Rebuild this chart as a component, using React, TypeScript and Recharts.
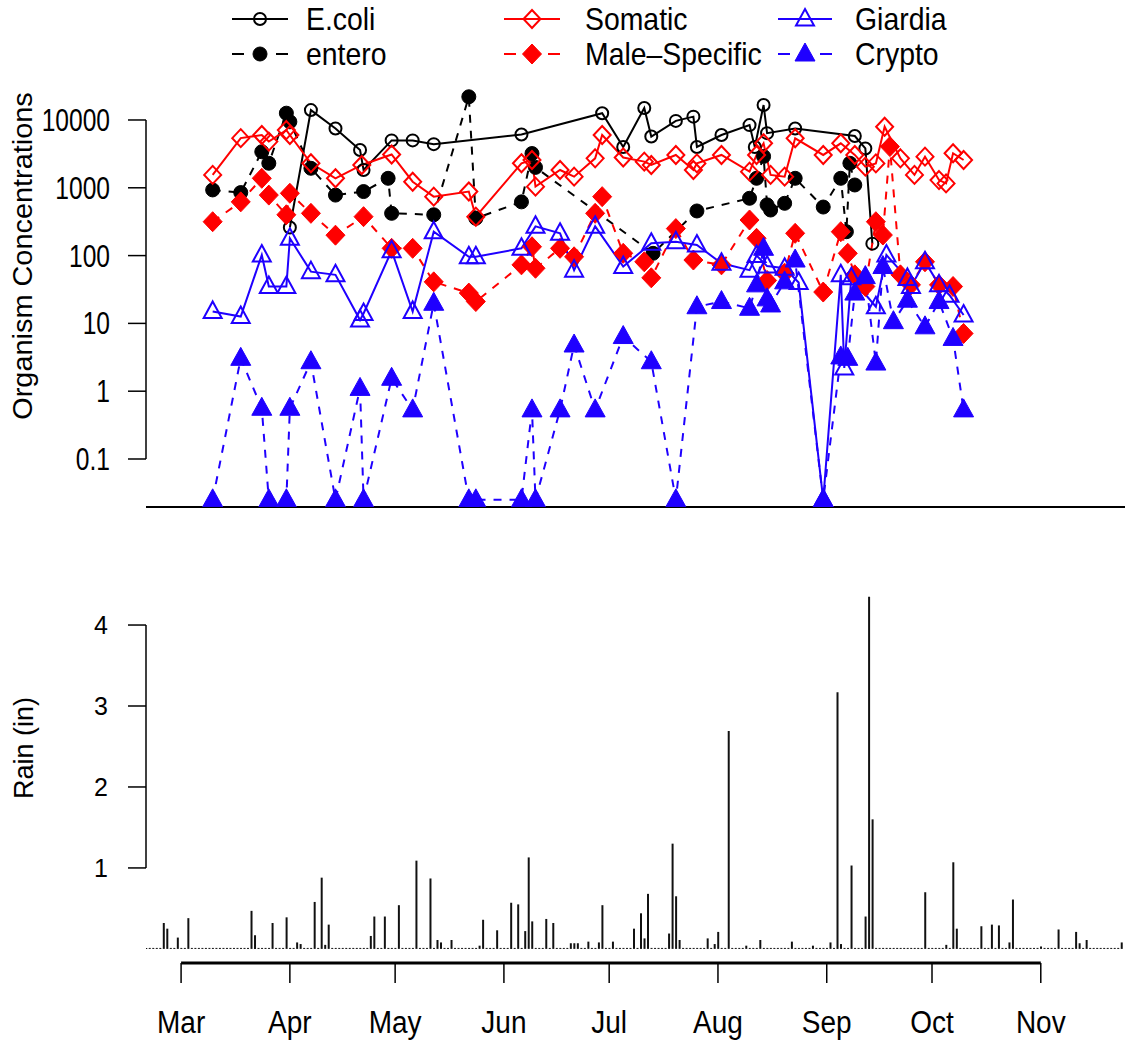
import React from 'react';
import { LineChart, Line, XAxis, YAxis, ReferenceLine, ComposedChart, Bar } from 'recharts';

// ---------- data (days counted from March 1) ----------
const monthTickDays = [0, 31, 61, 92, 122, 153, 184, 214, 245];
const monthTickLabels = ['Mar', 'Apr', 'May', 'Jun', 'Jul', 'Aug', 'Sep', 'Oct', 'Nov'];
const concTicks = [0.1, 1, 10, 100, 1000, 10000];
const rainTicks = [1, 2, 3, 4];
const xStartDay = -10;
const xEndDay = 269;

const ecoliDays = [31, 37, 44, 51, 52, 60, 66, 72, 97, 120, 126, 132, 134, 141, 146, 147, 154, 162, 163.5, 166, 167, 175, 192, 195, 197];
const ecoliValues = [260, 14000, 7500, 3600, 1830, 5000, 5000, 4400, 6100, 12600, 4000, 15000, 5700, 9700, 11200, 4000, 6000, 8400, 4000, 16600, 6400, 7500, 5800, 3800, 150];

const enteroDays = [9, 17, 23, 25, 30, 31, 37, 44, 52, 59, 60, 72, 82, 84, 97, 100, 101, 134.5, 147, 162, 164, 166, 167, 168, 172, 175, 183, 188, 189.6, 190.6, 192];
const enteroValues = [930, 850, 3400, 2300, 12600, 9400, 1940, 780, 880, 1380, 420, 400, 22000, 355, 620, 3200, 2000, 108, 455, 700, 1380, 2900, 560, 470, 590, 1380, 520, 1380, 225, 2300, 1100];

const somaticDays = [9, 17, 23, 25, 30, 31, 37, 44, 51.5, 60, 66, 72, 82, 84, 97, 100, 101, 108, 112, 118, 120, 126, 132, 134, 141, 146, 147, 154, 162, 164, 166, 168, 172, 175, 183, 188, 192, 195, 198, 200.5, 205, 209, 212, 216, 218, 220, 223];
const somaticValues = [1550, 5400, 6000, 4800, 7100, 6000, 2300, 1380, 2170, 3100, 1230, 740, 880, 375, 2300, 2570, 1040, 1830, 1460, 2720, 6000, 2800, 2430, 2170, 3050, 1830, 2290, 3050, 1730, 3050, 4530, 1550, 1460, 5370, 3050, 4530, 3050, 2050, 2290, 7950, 2720, 1550, 2880, 1300, 1160, 3230, 2570];

const maleDays = [9, 17, 23, 25, 30, 31, 37, 44, 52, 60, 66, 72, 82, 84, 97, 100, 101, 108, 112, 118, 120, 126, 132, 134, 141, 146, 154, 162, 164, 167, 172, 175, 183, 188, 190, 192, 195, 198, 200, 202, 205, 208, 212, 216, 220, 223];
const maleValues = [316, 620, 1380, 780, 400, 830, 420, 200, 375, 128, 128, 41, 28, 21, 73, 135, 65, 128, 96, 420, 740, 108, 81, 47, 250, 86, 73, 335, 180, 43, 55, 213, 29, 225, 108, 52, 35, 316, 201, 4050, 52, 37, 81, 37, 35, 7.1];

const giardiaDays = [9, 17, 23, 25, 30, 31, 37, 44, 51, 52, 60, 66, 72, 82, 84, 97, 101, 108, 112, 118, 126, 134, 141, 147, 154, 162, 164, 167, 172, 176, 183, 188, 189, 191, 198, 201, 207, 208, 212, 216, 219, 223];
const giardiaValues = [15, 12.6, 102, 35, 35, 180, 58, 52, 11.2, 14, 118, 15, 225, 96, 96, 128, 270, 213, 61, 270, 69, 152, 160, 143, 77, 61, 100, 70, 65, 40, 0.025, 52, 2.2, 47, 17.6, 102, 46, 35, 81, 37, 26, 13.3];

const cryptoDays = [9, 17, 23, 25, 30, 31, 37, 44, 51, 52, 60, 66, 72, 82, 84, 97, 100, 101, 108, 112, 118, 126, 134, 141, 147, 154, 162, 164, 166, 167, 168, 172, 175, 183, 188, 190, 192, 195, 198, 200, 203, 207, 212, 216, 220, 223];
const cryptoValues = [0.025, 3.05, 0.56, 0.025, 0.025, 0.56, 2.72, 0.025, 1.1, 0.025, 1.55, 0.53, 19.8, 0.025, 0.025, 0.025, 0.53, 0.025, 0.53, 4.8, 0.53, 6.4, 2.72, 0.025, 17.6, 21, 16.7, 37, 128, 23, 18.7, 41, 86, 0.025, 3.2, 3.05, 28, 49, 2.6, 69, 10.6, 22, 8.9, 21, 6.0, 0.53];

const rainFirstDay = -10;
const rainLastDay = 268;
const rainEventDays = [-5, -4, -1, 2, 20, 21, 26, 30, 33, 34, 38, 40, 41, 42, 54, 55, 58, 62, 67, 71, 73, 74, 77, 85, 86, 90, 94, 96, 98, 99, 100, 104, 106, 111, 112, 113, 116, 119, 120, 123, 129, 131, 132, 133, 139, 140, 141, 142, 150, 152, 153, 156, 161, 165, 174, 180, 185, 187, 188, 191, 195, 196, 197, 212, 218, 220, 221, 228, 231, 233, 236, 237, 245, 250, 255, 256, 258, 268];
const rainEventInches = [0.32, 0.25, 0.14, 0.38, 0.47, 0.17, 0.32, 0.39, 0.08, 0.06, 0.58, 0.88, 0.05, 0.30, 0.16, 0.40, 0.40, 0.54, 1.09, 0.87, 0.11, 0.08, 0.11, 0.04, 0.36, 0.23, 0.57, 0.55, 0.22, 1.13, 0.34, 0.37, 0.32, 0.07, 0.07, 0.07, 0.09, 0.08, 0.54, 0.09, 0.25, 0.44, 0.13, 0.68, 0.19, 1.30, 0.65, 0.11, 0.13, 0.06, 0.21, 2.69, 0.04, 0.11, 0.09, 0.04, 0.08, 3.17, 0.06, 1.03, 0.40, 4.35, 1.60, 0.70, 0.05, 1.07, 0.25, 0.28, 0.30, 0.29, 0.08, 0.61, 0.03, 0.24, 0.21, 0.07, 0.11, 0.08];

// ---------- derived tables ----------
const toPoints = (days: number[], values: number[]) => days.map((d, i) => ({ d, v: values[i] }));
const rainTable: { d: number; r: number }[] = [];
for (let d = rainFirstDay; d <= rainLastDay; d++) {
  const i = rainEventDays.indexOf(d);
  rainTable.push({ d, r: i >= 0 ? rainEventInches[i] : 0 });
}
const rainMax = Math.max(...rainEventInches);
const rainDomain = [-0.04 * rainMax, 1.04 * rainMax];
const concDomain = [Math.pow(10, -1.708), Math.pow(10, 4.516)];

// ---------- styling ----------
const FONT = '"Liberation Sans", Arial, Helvetica, sans-serif';
const BLACK = '#000000';
const RED = '#ff0000';
const BLUE = '#1f00ff';

const ST = ({ x, y, size, sx = 1, sy = 1, rotate = 0, anchor = 'start', children }: any) => (
  <text
    transform={`translate(${x} ${y}) rotate(${rotate}) scale(${sx} ${sy})`}
    fontSize={size}
    fontFamily={FONT}
    textAnchor={anchor}
    fill="#000"
  >
    {children}
  </text>
);

const Marker = ({ kind, cx, cy, color }: any) => {
  switch (kind) {
    case 'openCircle':
      return <circle cx={cx} cy={cy} r={6} fill="none" stroke={color} strokeWidth={2} />;
    case 'filledCircle':
      return <circle cx={cx} cy={cy} r={7} fill={color} stroke={color} strokeWidth={1} />;
    case 'openDiamond':
      return <path d={`M${cx},${cy - 9}L${cx + 8.5},${cy}L${cx},${cy + 9}L${cx - 8.5},${cy}Z`} fill="none" stroke={color} strokeWidth={2} />;
    case 'filledDiamond':
      return <path d={`M${cx},${cy - 10}L${cx + 9.5},${cy}L${cx},${cy + 10}L${cx - 9.5},${cy}Z`} fill={color} stroke={color} strokeWidth={1} />;
    case 'openTriangle':
      return <path d={`M${cx},${cy - 10}L${cx + 9},${cy + 6.5}L${cx - 9},${cy + 6.5}Z`} fill="none" stroke={color} strokeWidth={2} />;
    default:
      return <path d={`M${cx},${cy - 11}L${cx + 10},${cy + 7}L${cx - 10},${cy + 7}Z`} fill={color} stroke={color} strokeWidth={1} />;
  }
};

const dotFor = (kind: string, color: string) => (p: any) => {
  const { cx, cy, index } = p;
  if (cx == null || cy == null || isNaN(cx) || isNaN(cy)) return <g key={`e${index}`} />;
  return <Marker key={`m${index}`} kind={kind} cx={cx} cy={cy} color={color} />;
};

const seriesList = [
  { name: 'E.coli', days: ecoliDays, values: ecoliValues, color: BLACK, dash: undefined, kind: 'openCircle' },
  { name: 'entero', days: enteroDays, values: enteroValues, color: BLACK, dash: '8 8', kind: 'filledCircle' },
  { name: 'Somatic', days: somaticDays, values: somaticValues, color: RED, dash: undefined, kind: 'openDiamond' },
  { name: 'Male\u2013Specific', days: maleDays, values: maleValues, color: RED, dash: '8 8', kind: 'filledDiamond' },
  { name: 'Giardia', days: giardiaDays, values: giardiaValues, color: BLUE, dash: undefined, kind: 'openTriangle' },
  { name: 'Crypto', days: cryptoDays, values: cryptoValues, color: BLUE, dash: '8 8', kind: 'filledTriangle' },
];

const legendCols = [
  { lineStart: 232, lineEnd: 288, cx: 260, tx: 306 },
  { lineStart: 504, lineEnd: 560, cx: 532, tx: 585 },
  { lineStart: 778, lineEnd: 832, cx: 805, tx: 855 },
];
const legendRows = [{ sy: 19, ty: 30 }, { sy: 54, ty: 65 }];

const LegendBox = () => (
  <svg width={1125} height={80} style={{ position: 'absolute', left: 0, top: 0 }}>
    {seriesList.map((s, i) => {
      const col = legendCols[Math.floor(i / 2)];
      const row = legendRows[i % 2];
      return (
        <g key={s.name}>
          {s.dash ? (
            <g>
              <line x1={col.lineStart} x2={col.lineStart + 12} y1={row.sy} y2={row.sy} stroke={s.color} strokeWidth={2} />
              <line x1={col.lineEnd - 12} x2={col.lineEnd} y1={row.sy} y2={row.sy} stroke={s.color} strokeWidth={2} />
            </g>
          ) : (
            <line x1={col.lineStart} x2={col.lineEnd} y1={row.sy} y2={row.sy} stroke={s.color} strokeWidth={2} />
          )}
          <Marker kind={s.kind} cx={col.cx} cy={row.sy} color={s.color} />
          <ST x={col.tx} y={row.ty} size={28.4} sy={1.12}>{s.name}</ST>
        </g>
      );
    })}
  </svg>
);

const ConcTick = (p: any) => {
  const { x, y, payload } = p;
  return (
    <g>
      <ST x={x} y={y + 11} size={24.6} sy={1.25} anchor="end">{String(payload.value)}</ST>
    </g>
  );
};

const RainTick = (p: any) => {
  const { x, y, payload } = p;
  return (
    <g>
      <ST x={x} y={y + 9} size={25} anchor="end">{String(payload.value)}</ST>
    </g>
  );
};

const MonthTick = (p: any) => {
  const { x, y, payload } = p;
  const i = monthTickDays.indexOf(payload.value);
  return (
    <g>
      <ST x={x} y={y + 50} size={28} sy={1.1} anchor="middle">{monthTickLabels[i]}</ST>
    </g>
  );
};

export default function App() {
  return (
    <div style={{ position: 'absolute', left: 0, top: 0, width: 1125, height: 1044, background: '#fff', overflow: 'hidden' }}>
      <div style={{ position: 'absolute', left: 0, top: 0 }}>
        <LineChart width={1125} height={520} margin={{ top: 85, right: 0, bottom: 0, left: 0 }}>
          <XAxis
            type="number"
            dataKey="d"
            domain={[xStartDay, xEndDay]}
            allowDataOverflow
            tick={false}
            tickLine={false}
            axisLine={{ stroke: '#000', strokeWidth: 2 }}
            height={13}
          />
          <YAxis
            type="number"
            scale="log"
            domain={concDomain}
            allowDataOverflow
            ticks={concTicks}
            interval={0}
            tickSize={18}
            tickMargin={18}
            width={146}
            axisLine={false}
            tickLine={{ stroke: '#000', strokeWidth: 1.5 }}
            tick={(p: any) => <ConcTick {...p} />}
          />
          <ReferenceLine
            segment={[{ x: xStartDay, y: 0.1 }, { x: xStartDay, y: 10000 }]}
            stroke="#000"
            strokeWidth={1.5}
            ifOverflow="visible"
          />
          {seriesList.map((s) => (
            <Line
              key={s.name}
              data={toPoints(s.days, s.values)}
              dataKey="v"
              type="linear"
              stroke={s.color}
              strokeWidth={2}
              strokeDasharray={s.dash}
              dot={dotFor(s.kind, s.color)}
              activeDot={false}
              isAnimationActive={false}
            />
          ))}
        </LineChart>
      </div>
      <div style={{ position: 'absolute', left: 0, top: 520 }}>
        <ComposedChart width={1125} height={524} data={rainTable} margin={{ top: 62.6, right: 0, bottom: 0, left: 0 }}>
          <XAxis
            type="number"
            dataKey="d"
            domain={[xStartDay, xEndDay]}
            allowDataOverflow
            ticks={monthTickDays}
            interval={0}
            height={81}
            tickSize={20}
            tickMargin={0}
            axisLine={false}
            tickLine={{ stroke: '#000', strokeWidth: 1.5 }}
            tick={(p: any) => <MonthTick {...p} />}
          />
          <YAxis
            type="number"
            domain={rainDomain}
            allowDataOverflow
            ticks={rainTicks}
            interval={0}
            tickSize={18}
            tickMargin={20}
            width={146}
            axisLine={false}
            tickLine={{ stroke: '#000', strokeWidth: 1.5 }}
            tick={(p: any) => <RainTick {...p} />}
          />
          <ReferenceLine
            segment={[{ x: xStartDay, y: 1 }, { x: xStartDay, y: 4 }]}
            stroke="#000"
            strokeWidth={1.5}
            ifOverflow="visible"
          />
          <ReferenceLine
            segment={[{ x: monthTickDays[0], y: rainDomain[0] }, { x: monthTickDays[monthTickDays.length - 1], y: rainDomain[0] }]}
            stroke="#000"
            strokeWidth={3}
            ifOverflow="visible"
          />
          <Bar dataKey="r" barSize={2} fill="#111" minPointSize={1} isAnimationActive={false} />
        </ComposedChart>
      </div>
      <LegendBox />
      <svg width={1125} height={1044} style={{ position: 'absolute', left: 0, top: 0, pointerEvents: 'none' }}>
        <ST x={32} y={256} size={27} sx={1.07} rotate={-90} anchor="middle">Organism Concentrations</ST>
        <ST x={33} y={748} size={27} rotate={-90} anchor="middle">Rain (in)</ST>
      </svg>
    </div>
  );
}
